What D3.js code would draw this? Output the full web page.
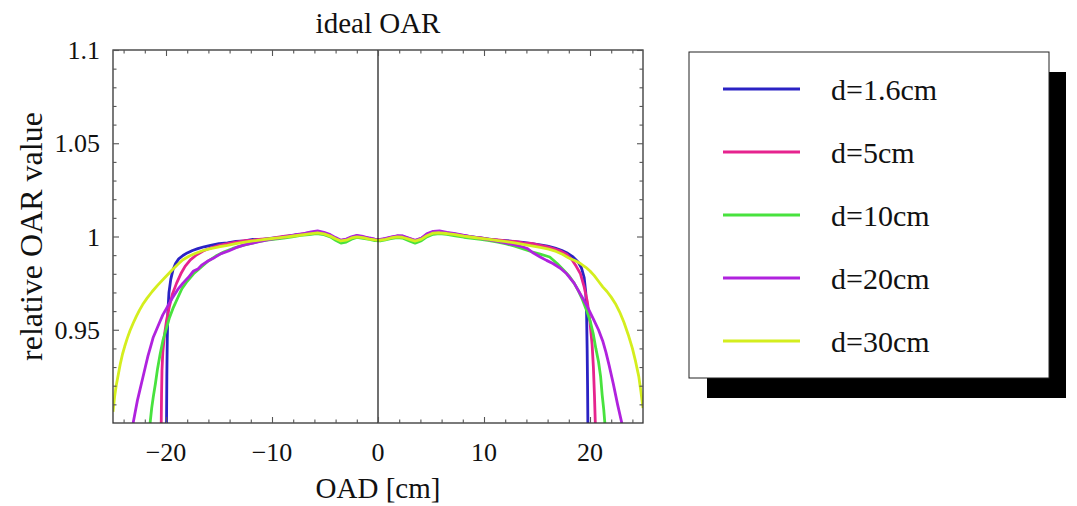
<!DOCTYPE html>
<html>
<head>
<meta charset="utf-8">
<script src="https://cdn.jsdelivr.net/npm/d3@7"></script>
<style>
  body { margin: 0; background: #fff; }
  text { font-family: "Liberation Serif", "DejaVu Serif", serif; fill: #111; }
</style>
</head>
<body>
<div id="viz"></div>
<script>
// series labels and colours
const seriesLabels = ["d=1.6cm", "d=5cm", "d=10cm", "d=20cm", "d=30cm"];
const seriesColors = ["#2a22c4", "#e6238e", "#48e23e", "#b022de", "#d4ee1e"];

// tick values
const xMajorTicks = [-20, -10, 0, 10, 20];
const xTickLabels = ["\u221220", "\u221210", "0", "10", "20"];
const xMinorTicks = [-24, -22, -18, -16, -14, -12, -8, -6, -4, -2, 2, 4, 6, 8, 12, 14, 16, 18, 22, 24];
const yMajorTicks = [0.95, 1, 1.05, 1.1];
const yTickLabels = ["0.95", "1", "1.05", "1.1"];
const yMinorTicks = [0.91, 0.92, 0.93, 0.94, 0.96, 0.97, 0.98, 0.99, 1.01, 1.02, 1.03, 1.04, 1.06, 1.07, 1.08, 1.09];

// OAR profiles [OAD cm, relative OAR]
const oarD16 = [[-19.95,0.900],[-19.92,0.925],[-19.88,0.945],[-19.82,0.960],[-19.72,0.970],[-19.55,0.977],[-19.35,0.982],[-19.1,0.9855],[-18.8,0.988],[-18.4,0.9898],[-18.0,0.9912],[-17.5,0.9925],[-17.0,0.9935],[-16.4,0.9945],[-15.8,0.9952],[-15.0,0.9962],[-14.2,0.9966],[-13.4,0.9974],[-12.6,0.9977],[-11.8,0.9984],[-11.0,0.9983],[-10.2,0.9990],[-9.4,0.9994],[-8.6,1.0000],[-7.8,1.0008],[-7.0,1.0012],[-6.3,1.0020],[-5.7,1.0026],[-5.1,1.0018],[-4.5,1.0006],[-4.0,0.9990],[-3.5,0.9977],[-3.0,0.9982],[-2.5,0.9996],[-2.0,1.0002],[-1.4,0.9996],[-0.8,0.9988],[-0.3,0.9984],[0.2,0.9982],[0.7,0.9987],[1.2,0.9993],[1.8,1.0000],[2.3,1.0002],[2.9,0.9988],[3.5,0.9976],[4.1,0.9988],[4.6,1.0008],[5.2,1.0022],[5.8,1.0024],[6.5,1.0018],[7.3,1.0013],[8.1,1.0004],[8.9,0.9998],[9.7,0.9992],[10.5,0.9986],[11.3,0.9981],[12.1,0.9978],[12.9,0.9973],[13.7,0.9968],[14.5,0.9962],[15.3,0.9955],[16.0,0.9948],[16.7,0.9938],[17.3,0.9926],[17.9,0.9910],[18.4,0.9890],[18.9,0.9862],[19.2,0.9830],[19.45,0.9780],[19.6,0.9700],[19.68,0.958],[19.73,0.940],[19.77,0.920],[19.8,0.900]];
const oarD5 = [[-20.45,0.900],[-20.42,0.915],[-20.38,0.928],[-20.3,0.938],[-20.15,0.947],[-19.95,0.955],[-19.7,0.962],[-19.4,0.969],[-19.0,0.975],[-18.6,0.980],[-18.2,0.984],[-17.7,0.9875],[-17.1,0.9902],[-16.5,0.9922],[-15.8,0.9938],[-15.0,0.9952],[-14.2,0.9962],[-13.4,0.9970],[-12.6,0.9978],[-11.8,0.9981],[-11.0,0.9986],[-10.2,0.9989],[-9.4,0.9996],[-8.6,1.0003],[-7.8,1.0006],[-7.0,1.0015],[-6.3,1.0022],[-5.7,1.0024],[-5.1,1.0016],[-4.5,1.0004],[-4.0,0.9988],[-3.5,0.9978],[-3.0,0.9984],[-2.5,0.9994],[-2.0,1.0004],[-1.4,0.9998],[-0.8,0.9990],[-0.3,0.9983],[0.2,0.9980],[0.7,0.9988],[1.2,0.9995],[1.8,1.0002],[2.3,1.0000],[2.9,0.9990],[3.5,0.9978],[4.1,0.9990],[4.6,1.0010],[5.2,1.0024],[5.8,1.0022],[6.5,1.0020],[7.3,1.0011],[8.1,1.0006],[8.9,0.9996],[9.7,0.9993],[10.5,0.9984],[11.3,0.9982],[12.1,0.9976],[12.9,0.9974],[13.7,0.9966],[14.5,0.9963],[15.3,0.9953],[16.0,0.9944],[16.7,0.9932],[17.3,0.9920],[17.8,0.9905],[18.3,0.9875],[18.7,0.9840],[19.1,0.9800],[19.45,0.9730],[19.75,0.9650],[20.0,0.954],[20.2,0.942],[20.32,0.930],[20.42,0.915],[20.5,0.900]];
const oarD10 = [[-21.5,0.900],[-21.35,0.908],[-21.2,0.914],[-21.0,0.921],[-20.8,0.929],[-20.55,0.937],[-20.3,0.944],[-20.0,0.950],[-19.7,0.956],[-19.3,0.962],[-18.9,0.967],[-18.5,0.972],[-18.0,0.976],[-17.4,0.980],[-16.8,0.983],[-16.1,0.9865],[-15.3,0.9895],[-14.5,0.9918],[-13.7,0.9936],[-12.9,0.9950],[-12.1,0.9962],[-11.3,0.9972],[-10.5,0.9980],[-9.7,0.9986],[-8.9,0.9992],[-8.1,0.9998],[-7.3,1.0006],[-6.5,1.0010],[-5.8,1.0015],[-5.1,1.0010],[-4.5,0.9998],[-4.0,0.9980],[-3.5,0.9965],[-3.0,0.9970],[-2.5,0.9985],[-2.0,0.9995],[-1.4,0.9990],[-0.8,0.9984],[-0.3,0.9978],[0.2,0.9976],[0.7,0.9982],[1.2,0.9988],[1.8,0.9994],[2.3,0.9992],[2.9,0.9978],[3.5,0.9964],[4.1,0.9978],[4.6,0.9998],[5.2,1.0012],[5.8,1.0016],[6.5,1.0012],[7.3,1.0004],[8.1,0.9996],[8.9,0.9990],[9.7,0.9984],[10.5,0.9978],[11.3,0.9970],[12.1,0.9960],[12.9,0.9948],[13.7,0.9934],[14.5,0.9918],[15.3,0.9905],[16.2,0.9890],[16.9,0.9855],[17.5,0.9820],[18.0,0.9790],[18.5,0.9750],[18.9,0.9710],[19.3,0.9660],[19.7,0.9600],[20.0,0.9550],[20.3,0.9480],[20.55,0.9400],[20.8,0.9330],[21.0,0.9250],[21.15,0.9150],[21.3,0.9070],[21.4,0.9000]];
const oarD20 = [[-23.1,0.900],[-22.9,0.906],[-22.7,0.912],[-22.45,0.918],[-22.2,0.924],[-21.95,0.930],[-21.7,0.936],[-21.45,0.941],[-21.2,0.946],[-20.9,0.950],[-20.6,0.954],[-20.3,0.958],[-19.9,0.962],[-19.4,0.967],[-18.9,0.9715],[-18.4,0.975],[-17.9,0.978],[-17.4,0.9815],[-17.0,0.9825],[-16.6,0.9848],[-16.0,0.9870],[-15.4,0.9888],[-14.8,0.9908],[-14.1,0.9922],[-13.4,0.9940],[-12.6,0.9955],[-11.8,0.9965],[-11.0,0.9975],[-10.2,0.9985],[-9.4,0.9992],[-8.6,1.0000],[-7.8,1.0010],[-7.0,1.0016],[-6.3,1.0025],[-5.7,1.0030],[-5.1,1.0022],[-4.5,1.0010],[-4.0,0.9994],[-3.5,0.9980],[-3.0,0.9986],[-2.5,0.9998],[-2.0,1.0006],[-1.4,1.0000],[-0.8,0.9992],[-0.3,0.9986],[0.2,0.9984],[0.7,0.9990],[1.2,0.9997],[1.8,1.0004],[2.3,1.0003],[2.9,0.9992],[3.5,0.9980],[4.1,0.9992],[4.6,1.0014],[5.2,1.0028],[5.8,1.0030],[6.5,1.0022],[7.3,1.0015],[8.1,1.0006],[8.9,0.9998],[9.7,0.9990],[10.5,0.9982],[11.3,0.9974],[12.1,0.9964],[12.9,0.9955],[13.6,0.9945],[14.1,0.9935],[14.7,0.9910],[15.3,0.9890],[15.9,0.9872],[16.5,0.9855],[17.2,0.9830],[17.8,0.9800],[18.5,0.9750],[19.1,0.9690],[19.7,0.9630],[20.3,0.9560],[20.8,0.9500],[21.2,0.9440],[21.5,0.9380],[21.8,0.9310],[22.2,0.9210],[22.6,0.9100],[23.0,0.9000]];
const oarD30 = [[-25.0,0.906],[-24.85,0.914],[-24.7,0.920],[-24.5,0.926],[-24.3,0.932],[-24.1,0.937],[-23.9,0.941],[-23.65,0.9455],[-23.4,0.9495],[-23.1,0.9535],[-22.8,0.9572],[-22.5,0.9605],[-22.2,0.9635],[-21.8,0.9668],[-21.3,0.9705],[-20.8,0.9738],[-20.1,0.9780],[-19.4,0.9822],[-18.9,0.985],[-18.4,0.9875],[-17.8,0.9895],[-17.2,0.9910],[-16.5,0.9925],[-15.8,0.9935],[-15.0,0.9945],[-14.2,0.9952],[-13.4,0.9962],[-12.6,0.9970],[-11.8,0.9976],[-11.0,0.9982],[-10.2,0.9988],[-9.4,0.9993],[-8.6,0.9998],[-7.8,1.0004],[-7.0,1.0010],[-6.3,1.0016],[-5.7,1.0020],[-5.1,1.0014],[-4.5,1.0002],[-4.0,0.9988],[-3.5,0.9976],[-3.0,0.9980],[-2.5,0.9992],[-2.0,0.9998],[-1.4,0.9994],[-0.8,0.9986],[-0.3,0.9982],[0.2,0.9980],[0.7,0.9985],[1.2,0.9992],[1.8,0.9998],[2.3,0.9996],[2.9,0.9986],[3.5,0.9975],[4.1,0.9986],[4.6,1.0004],[5.2,1.0018],[5.8,1.0020],[6.5,1.0016],[7.3,1.0010],[8.1,1.0002],[8.9,0.9996],[9.7,0.9990],[10.5,0.9984],[11.3,0.9978],[12.1,0.9972],[12.9,0.9966],[13.7,0.9958],[14.5,0.9950],[15.3,0.9942],[16.1,0.9932],[16.8,0.9920],[17.4,0.9905],[18.0,0.9885],[18.6,0.9870],[19.1,0.9855],[19.6,0.9835],[20.0,0.9815],[20.4,0.9790],[20.8,0.9760],[21.2,0.9730],[21.6,0.9705],[22.0,0.9675],[22.4,0.9640],[22.8,0.9595],[23.2,0.9540],[23.6,0.9475],[24.0,0.9400],[24.3,0.9330],[24.6,0.9250],[24.8,0.9170],[25.0,0.9080]];

document.addEventListener("DOMContentLoaded", () => {
    const width = 1077;
    const height = 506;
    const margin = {left: 113, right: 434, top: 50, bottom: 83};

    const series = [oarD16, oarD5, oarD10, oarD20, oarD30];

    const svg = d3.select("#viz").append("svg")
        .attr("width", width)
        .attr("height", height);

    const x = d3.scaleLinear().domain([-25, 25]).range([margin.left, width - margin.right]);
    const y = d3.scaleLinear().domain([0.9, 1.1]).range([height - margin.bottom, margin.top]);

    const [x0, x1] = x.range();
    const [y0, y1] = y.range(); // y0 bottom, y1 top

    svg.append("clipPath").attr("id", "plotClip")
        .append("rect")
        .attr("x", x0).attr("y", y1)
        .attr("width", x1 - x0).attr("height", y0 - y1);

    // curves
    const line = d3.line().x(d => x(d[0])).y(d => y(d[1]));
    svg.append("g")
        .attr("clip-path", "url(#plotClip)")
        .selectAll("path")
        .data(series)
        .enter()
        .append("path")
        .attr("d", line)
        .attr("fill", "none")
        .attr("stroke", (d, i) => seriesColors[i])
        .attr("stroke-width", 2.8)
        .attr("stroke-linejoin", "round");

    // zero line
    svg.append("line")
        .attr("x1", x(0)).attr("x2", x(0))
        .attr("y1", y1).attr("y2", y0)
        .attr("stroke", "#111").attr("stroke-width", 1.2);

    // frame
    svg.append("rect")
        .attr("x", x0).attr("y", y1)
        .attr("width", x1 - x0).attr("height", y0 - y1)
        .attr("fill", "none").attr("stroke", "#333").attr("stroke-width", 1.3);

    // inward ticks via axes on all four sides
    const tickColor = "#555";
    function styleAxis(g) {
        g.select(".domain").remove();
        g.selectAll(".tick line").attr("stroke", tickColor).attr("stroke-width", 1.1);
        g.selectAll(".tick text").remove();
    }
    svg.append("g").attr("transform", `translate(0,${y0})`)
        .call(d3.axisTop(x).tickValues(xMajorTicks).tickSize(6)).call(styleAxis);
    svg.append("g").attr("transform", `translate(0,${y0})`)
        .call(d3.axisTop(x).tickValues(xMinorTicks).tickSize(3.5)).call(styleAxis);
    svg.append("g").attr("transform", `translate(0,${y1})`)
        .call(d3.axisBottom(x).tickValues(xMajorTicks).tickSize(6)).call(styleAxis);
    svg.append("g").attr("transform", `translate(0,${y1})`)
        .call(d3.axisBottom(x).tickValues(xMinorTicks).tickSize(3.5)).call(styleAxis);
    svg.append("g").attr("transform", `translate(${x0},0)`)
        .call(d3.axisRight(y).tickValues(yMajorTicks).tickSize(6)).call(styleAxis);
    svg.append("g").attr("transform", `translate(${x0},0)`)
        .call(d3.axisRight(y).tickValues(yMinorTicks).tickSize(3.5)).call(styleAxis);
    svg.append("g").attr("transform", `translate(${x1},0)`)
        .call(d3.axisLeft(y).tickValues(yMajorTicks).tickSize(6)).call(styleAxis);
    svg.append("g").attr("transform", `translate(${x1},0)`)
        .call(d3.axisLeft(y).tickValues(yMinorTicks).tickSize(3.5)).call(styleAxis);

    // tick labels
    svg.append("g").selectAll("text")
        .data(xMajorTicks)
        .enter()
        .append("text")
        .attr("x", d => x(d))
        .attr("y", y0 + 38)
        .attr("text-anchor", "middle")
        .style("font-size", "26px")
        .text((d, i) => xTickLabels[i]);

    svg.append("g").selectAll("text")
        .data(yMajorTicks)
        .enter()
        .append("text")
        .attr("x", x0 - 13)
        .attr("y", d => y(d) + 9)
        .attr("text-anchor", "end")
        .style("font-size", "26px")
        .text((d, i) => yTickLabels[i]);

    // title and axis labels
    svg.append("text")
        .attr("x", x(0)).attr("y", 33)
        .attr("text-anchor", "middle")
        .style("font-size", "29px")
        .text("ideal OAR");

    svg.append("text")
        .attr("x", x(0)).attr("y", 498)
        .attr("text-anchor", "middle")
        .style("font-size", "29px")
        .text("OAD [cm]");

    svg.append("text")
        .attr("transform", `translate(42,${(y0 + y1) / 2}) rotate(-90)`)
        .attr("text-anchor", "middle")
        .style("font-size", "32px")
        .text("relative OAR value");

    // legend with drop shadow
    const legend = svg.append("g");
    legend.append("rect")
        .attr("x", 707).attr("y", 72)
        .attr("width", 359).attr("height", 326)
        .attr("fill", "#000");
    legend.append("rect")
        .attr("x", 689).attr("y", 52)
        .attr("width", 360).attr("height", 326)
        .attr("fill", "#fff").attr("stroke", "#222").attr("stroke-width", 1);

    const rows = legend.selectAll(".row")
        .data(seriesLabels)
        .enter()
        .append("g")
        .attr("transform", (d, i) => `translate(0,${89 + i * 63})`);
    rows.append("line")
        .attr("x1", 723).attr("x2", 800)
        .attr("stroke", (d, i) => seriesColors[i])
        .attr("stroke-width", 3);
    rows.append("text")
        .attr("x", 831).attr("y", 11)
        .style("font-size", "30px")
        .text(d => d);
});
</script>
</body>
</html>
